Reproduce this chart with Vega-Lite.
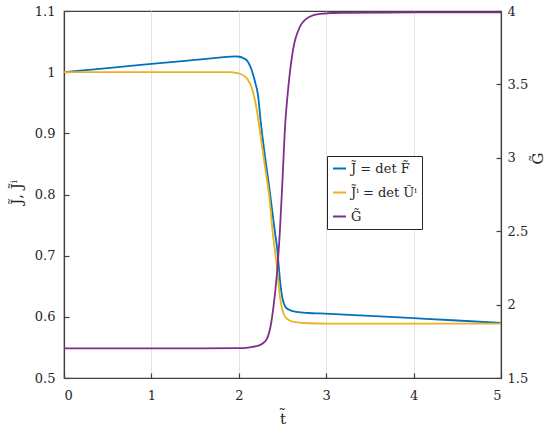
{
  "$schema": "https://vega.github.io/schema/vega-lite/v6.json",
  "width": 437,
  "height": 367,
  "autosize": {"type": "none"},
  "padding": {"left": 64, "top": 11, "right": 49, "bottom": 53},
  "background": "white",
  "config": {
    "font": "DejaVu Serif",
    "view": {"stroke": "#404040", "strokeWidth": 1.2},
    "axis": {
      "labelFont": "DejaVu Serif",
      "labelFontSize": 13,
      "labelColor": "#262626",
      "titleFont": "DejaVu Serif",
      "titleFontSize": 15,
      "titleFontWeight": "normal",
      "titleColor": "#262626",
      "domainColor": "#404040",
      "domainWidth": 1.2,
      "tickColor": "#404040",
      "tickSize": -5,
      "tickWidth": 1.2
    },
    "legend": {
      "labelFont": "DejaVu Serif",
      "labelFontSize": 13,
      "labelColor": "#262626"
    }
  },
  "datasets": {
    "jd": [
      {"t": 0, "v": 1.0, "s": "J"},
      {"t": 0.5, "v": 1.0067, "s": "J"},
      {"t": 1.0, "v": 1.0134, "s": "J"},
      {"t": 1.5, "v": 1.0201, "s": "J"},
      {"t": 1.8, "v": 1.0241, "s": "J"},
      {"t": 1.9, "v": 1.0253, "s": "J"},
      {"t": 1.96, "v": 1.0258, "s": "J"},
      {"t": 2.01, "v": 1.0252, "s": "J"},
      {"t": 2.05, "v": 1.0232, "s": "J"},
      {"t": 2.09, "v": 1.0196, "s": "J"},
      {"t": 2.13, "v": 1.01, "s": "J"},
      {"t": 2.16, "v": 0.998, "s": "J"},
      {"t": 2.19, "v": 0.982, "s": "J"},
      {"t": 2.22, "v": 0.962, "s": "J"},
      {"t": 2.25, "v": 0.92, "s": "J"},
      {"t": 2.3, "v": 0.862, "s": "J"},
      {"t": 2.35, "v": 0.81, "s": "J"},
      {"t": 2.41, "v": 0.742, "s": "J"},
      {"t": 2.44, "v": 0.71, "s": "J"},
      {"t": 2.46, "v": 0.678, "s": "J"},
      {"t": 2.48, "v": 0.648, "s": "J"},
      {"t": 2.5, "v": 0.63, "s": "J"},
      {"t": 2.53, "v": 0.617, "s": "J"},
      {"t": 2.57, "v": 0.612, "s": "J"},
      {"t": 2.66, "v": 0.608, "s": "J"},
      {"t": 2.8, "v": 0.6063, "s": "J"},
      {"t": 2.93, "v": 0.6055, "s": "J"},
      {"t": 3.5, "v": 0.6015, "s": "J"},
      {"t": 4.0, "v": 0.5978, "s": "J"},
      {"t": 4.5, "v": 0.594, "s": "J"},
      {"t": 5.0, "v": 0.59, "s": "J"},
      {"t": 0, "v": 1.0, "s": "Ji"},
      {"t": 1.0, "v": 1.0, "s": "Ji"},
      {"t": 1.9, "v": 1.0, "s": "Ji"},
      {"t": 1.97, "v": 0.999, "s": "Ji"},
      {"t": 2.02, "v": 0.997, "s": "Ji"},
      {"t": 2.07, "v": 0.993, "s": "Ji"},
      {"t": 2.11, "v": 0.986, "s": "Ji"},
      {"t": 2.145, "v": 0.976, "s": "Ji"},
      {"t": 2.2, "v": 0.943, "s": "Ji"},
      {"t": 2.24, "v": 0.905, "s": "Ji"},
      {"t": 2.3, "v": 0.845, "s": "Ji"},
      {"t": 2.35, "v": 0.795, "s": "Ji"},
      {"t": 2.385, "v": 0.742, "s": "Ji"},
      {"t": 2.44, "v": 0.677, "s": "Ji"},
      {"t": 2.47, "v": 0.633, "s": "Ji"},
      {"t": 2.51, "v": 0.606, "s": "Ji"},
      {"t": 2.55, "v": 0.597, "s": "Ji"},
      {"t": 2.58, "v": 0.594, "s": "Ji"},
      {"t": 2.65, "v": 0.5915, "s": "Ji"},
      {"t": 2.8, "v": 0.5895, "s": "Ji"},
      {"t": 3.0, "v": 0.589, "s": "Ji"},
      {"t": 4.0, "v": 0.589, "s": "Ji"},
      {"t": 5.0, "v": 0.589, "s": "Ji"}
    ],
    "gd": [
      {"t": 0, "v": 1.702, "s": "G"},
      {"t": 1.0, "v": 1.702, "s": "G"},
      {"t": 2.0, "v": 1.703, "s": "G"},
      {"t": 2.126, "v": 1.709, "s": "G"},
      {"t": 2.2, "v": 1.717, "s": "G"},
      {"t": 2.26, "v": 1.73, "s": "G"},
      {"t": 2.32, "v": 1.765, "s": "G"},
      {"t": 2.37, "v": 1.873, "s": "G"},
      {"t": 2.41, "v": 2.054, "s": "G"},
      {"t": 2.44, "v": 2.236, "s": "G"},
      {"t": 2.47, "v": 2.5, "s": "G"},
      {"t": 2.5, "v": 2.85, "s": "G"},
      {"t": 2.53, "v": 3.22, "s": "G"},
      {"t": 2.56, "v": 3.44, "s": "G"},
      {"t": 2.62, "v": 3.734, "s": "G"},
      {"t": 2.7, "v": 3.893, "s": "G"},
      {"t": 2.81, "v": 3.961, "s": "G"},
      {"t": 2.93, "v": 3.98, "s": "G"},
      {"t": 3.2, "v": 3.988, "s": "G"},
      {"t": 4.0, "v": 3.99, "s": "G"},
      {"t": 5.0, "v": 3.99, "s": "G"}
    ]
  },
  "encoding": {
    "x": {
      "field": "t",
      "type": "quantitative",
      "scale": {"domain": [0, 5], "nice": false},
      "axis": {
        "title": "t̃",
        "values": [0, 1, 2, 3, 4, 5],
        "grid": true,
        "gridColor": "#e3e3e3",
        "gridWidth": 1,
        "labelPadding": 16,
        "titlePadding": 9,
        "format": "~g"
      }
    },
    "color": {
      "field": "s",
      "type": "nominal",
      "scale": {"domain": ["J", "Ji", "G"], "range": ["#0072BD", "#EDB120", "#7E2F8E"]},
      "legend": {
        "title": null,
        "orient": "none",
        "legendX": 263,
        "legendY": 145,
        "strokeColor": "#262626",
        "fillColor": "white",
        "padding": 5,
        "rowPadding": 9,
        "symbolType": "stroke",
        "symbolSize": 169,
        "symbolStrokeWidth": 2,
        "labelOffset": 4,
        "labelExpr": "datum.label == 'J' ? 'J̃ = det F̃' : datum.label == 'Ji' ? 'J̃ⁱ = det Ũⁱ' : 'G̃'"
      }
    }
  },
  "layer": [
    {
      "data": {"name": "jd"},
      "mark": {"type": "line", "strokeWidth": 1.8, "interpolate": "monotone"},
      "encoding": {
        "y": {
          "field": "v",
          "type": "quantitative",
          "scale": {"domain": [0.5, 1.1], "nice": false, "zero": false},
          "axis": {
            "orient": "left",
            "title": "J̃, J̃ⁱ",
            "values": [0.5, 0.6, 0.7, 0.8, 0.9, 1.0, 1.1],
            "format": "~g",
            "grid": false,
            "labelPadding": 14,
            "titleAngle": 270,
            "titleX": -40,
            "titleY": 181
          }
        }
      }
    },
    {
      "data": {"name": "gd"},
      "mark": {"type": "line", "strokeWidth": 1.8, "interpolate": "monotone"},
      "encoding": {
        "y": {
          "field": "v",
          "type": "quantitative",
          "scale": {"domain": [1.5, 4], "nice": false, "zero": false},
          "axis": {
            "orient": "right",
            "title": "G̃",
            "values": [1.5, 2, 2.5, 3, 3.5, 4],
            "format": "~g",
            "grid": false,
            "labelPadding": 11,
            "titleAngle": 270,
            "titleX": 44,
            "titleY": 147
          }
        }
      }
    }
  ],
  "resolve": {"scale": {"y": "independent"}}
}
